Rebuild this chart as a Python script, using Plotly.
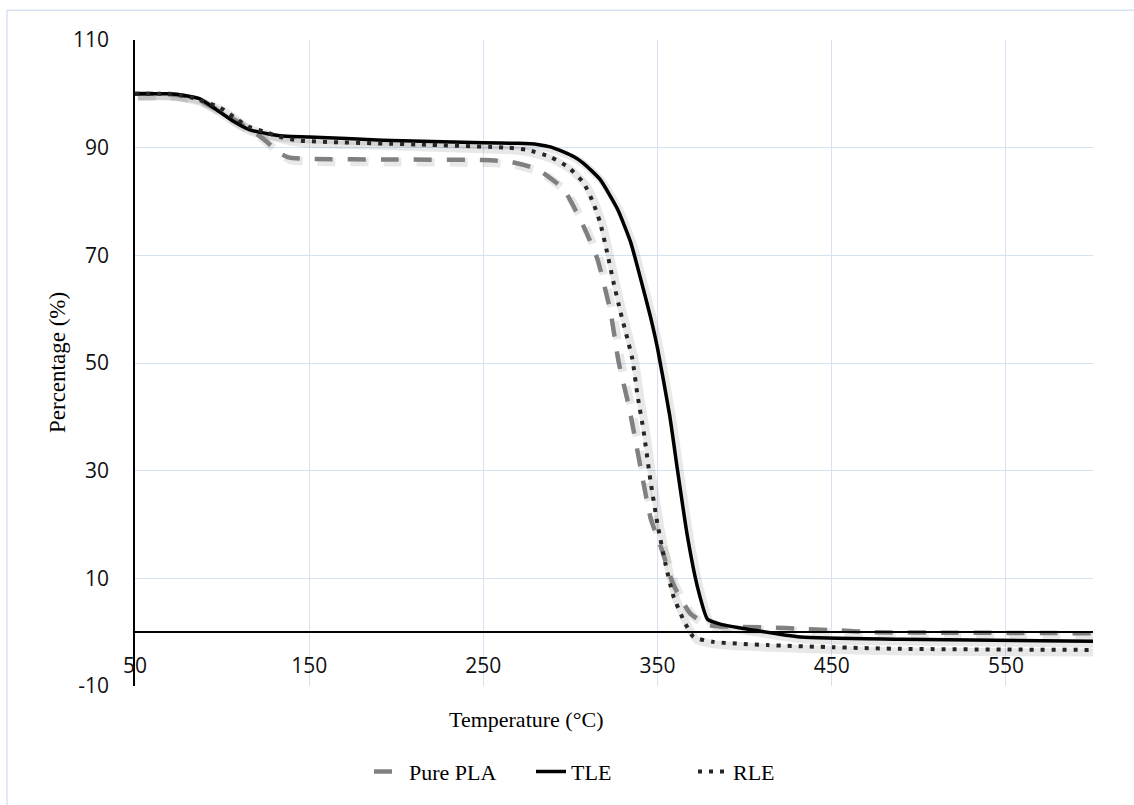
import plotly.graph_objects as go

# ---------------- data ----------------
pla_T = [50, 65, 75, 85, 97, 110, 116, 121, 126, 132, 138, 150, 200, 250, 265, 281, 296,
         307.5, 315.5, 323, 327.6, 333.5, 337.4, 341.4, 346, 352.7, 359, 369, 380,
         413, 434, 455, 474, 520, 600]
pla_P = [100, 100, 99.8, 99.2, 97.1, 94.6, 93.3, 92.3, 91.0, 89.2, 88.2, 87.9, 87.8, 87.7,
         87.4, 86.0, 82.3, 75.4, 69.3, 59.5, 50.3, 42.0, 35.5, 28.6, 21.2, 15.1, 8.9,
         3.4, 1.3, 0.9, 0.6, 0.3, 0.0, -0.1, -0.2]

tle_T = [50, 70, 80, 87, 97, 106, 116, 126, 137, 150, 192, 250, 270, 281, 289, 296,
         302, 307.5, 317, 327, 334.5, 340, 346, 350, 356.9, 361.5, 367, 373, 378.7,
         386, 432, 490, 600]
tle_P = [100, 100, 99.6, 99.1, 97.0, 95.0, 93.3, 92.6, 92.1, 92.0, 91.4, 90.9, 90.8,
         90.6, 90.1, 89.2, 88.3, 87.1, 84.1, 78.6, 72.5, 66.0, 58.5, 52.7, 40.4, 30.0,
         18.1, 8.3, 2.4, 1.5, -0.9, -1.3, -1.7]

rle_T = [50, 70, 80, 87, 99, 109, 115, 126, 132, 145, 212, 264, 275, 288.5, 299, 307.5,
         313, 317, 321, 324.7, 328.7, 332.7, 335.5, 338.5, 342, 346, 350, 354.6, 359,
         365, 370.7, 382, 413, 451, 490, 600]
rle_P = [100, 100, 99.5, 98.9, 97.4, 95.2, 93.9, 92.8, 92.1, 91.3, 90.6, 90.0, 89.6,
         88.3, 86.3, 83.5, 79.8, 76.1, 70.6, 65.0, 59.5, 54.5, 50.8, 44.0, 37.3, 28.0,
         20.0, 12.6, 6.8, 2.2, -0.9, -1.8, -2.4, -2.8, -3.1, -3.3]

series_names = ["Pure PLA", "TLE", "RLE"]
x_ticks = [50, 150, 250, 350, 450, 550]
y_ticks = [-10, 10, 30, 50, 70, 90, 110]
y_tick_labels = ["-10", "10", "30", "50", "70", "90", "110"]

# ---------------- styling ----------------
X_RANGE = [50, 600]
Y_RANGE = [-10, 110]
GRID = "#d5e2f2"
TICK_FONT = dict(family="Open Sans, Calibri, sans-serif", size=21, color="#111111")
SERIF = "Times New Roman, Liberation Serif, serif"

styles = [
    dict(color="#808080", width=4.5, dash="18px,15px"),
    dict(color="#000000", width=3.5, dash="solid"),
    dict(color="#262626", width=4, dash="4px,7px"),
]
data = [(pla_T, pla_P), (tle_T, tle_P), (rle_T, rle_P)]

fig = go.Figure()

# empty trace so that the base subplot (grid, axes, labels) exists
fig.add_trace(go.Scatter(x=[], y=[], xaxis="x", yaxis="y", showlegend=False,
                         hoverinfo="skip"))

# shadow layer (same data, drawn on slightly shifted hidden axes)
sx, sy = 1.6, 0.5
for (T, P), st in zip(data, styles):
    fig.add_trace(go.Scatter(
        x=T, y=P, mode="lines", xaxis="x2", yaxis="y2", showlegend=False,
        hoverinfo="skip",
        line=dict(color="rgba(0,0,0,0.09)", width=st["width"] + 4,
                  dash=st["dash"] if st["dash"] != "4px,7px" else "solid",
                  shape="spline", smoothing=0.5)))

# main series
for name, (T, P), st in zip(series_names, data, styles):
    fig.add_trace(go.Scatter(
        x=T, y=P, mode="lines", name=name, xaxis="x3", yaxis="y3",
        line=dict(color=st["color"], width=st["width"], dash=st["dash"],
                  shape="spline", smoothing=0.5)))

fig.update_layout(
    width=1134, height=805,
    margin=dict(l=135, r=41, t=40, b=116),
    paper_bgcolor="white", plot_bgcolor="white",
    showlegend=True,
    xaxis=dict(range=X_RANGE, tickvals=x_ticks, showgrid=True, gridcolor=GRID,
               gridwidth=1, zeroline=False, showline=True, linecolor="black",
               linewidth=1.5, anchor="free", position=10 / 120, ticks="",
               tickfont=TICK_FONT, ticklabelstandoff=15),
    yaxis=dict(range=Y_RANGE, tickvals=y_ticks, ticktext=y_tick_labels,
               showgrid=True, gridcolor=GRID,
               gridwidth=1, zeroline=False, showline=True, linecolor="black",
               linewidth=1.5, ticks="", tickfont=TICK_FONT, ticklabelstandoff=20),
    xaxis2=dict(range=[X_RANGE[0] - sx, X_RANGE[1] - sx], overlaying="x",
                anchor="y2", visible=False),
    yaxis2=dict(range=[Y_RANGE[0] + sy, Y_RANGE[1] + sy], overlaying="y",
                anchor="x2", visible=False),
    xaxis3=dict(range=X_RANGE, overlaying="x", anchor="y3", visible=False),
    yaxis3=dict(range=Y_RANGE, overlaying="y", anchor="x3", visible=False),
    legend=dict(orientation="h", x=(369 - 135) / 958, xanchor="left", y=-0.1325,
                yanchor="middle", font=dict(family=SERIF, size=22, color="black"),
                bgcolor="rgba(0,0,0,0)", entrywidth=117, entrywidthmode="pixels"),
    annotations=[
        dict(text="Temperature (°C)", xref="paper", yref="paper",
             x=(526 - 135) / 958, y=(689 - 723) / 649, showarrow=False,
             xanchor="center", yanchor="middle",
             font=dict(family=SERIF, size=22, color="black")),
        dict(text="Percentage (%)", xref="paper", yref="paper",
             x=(57 - 135) / 958, y=0.5, showarrow=False, textangle=-90,
             xanchor="center", yanchor="middle",
             font=dict(family=SERIF, size=23, color="black")),
    ],
    shapes=[
        dict(type="rect", xref="paper", yref="paper",
             x0=(7 - 135) / 958, x1=(1145 - 135) / 958,
             y0=(689 - 815) / 649, y1=(689 - 10) / 649,
             line=dict(color="#d6e2f1", width=1.5), fillcolor="rgba(0,0,0,0)",
             layer="below"),
    ],
)

fig.write_html("out.html")
